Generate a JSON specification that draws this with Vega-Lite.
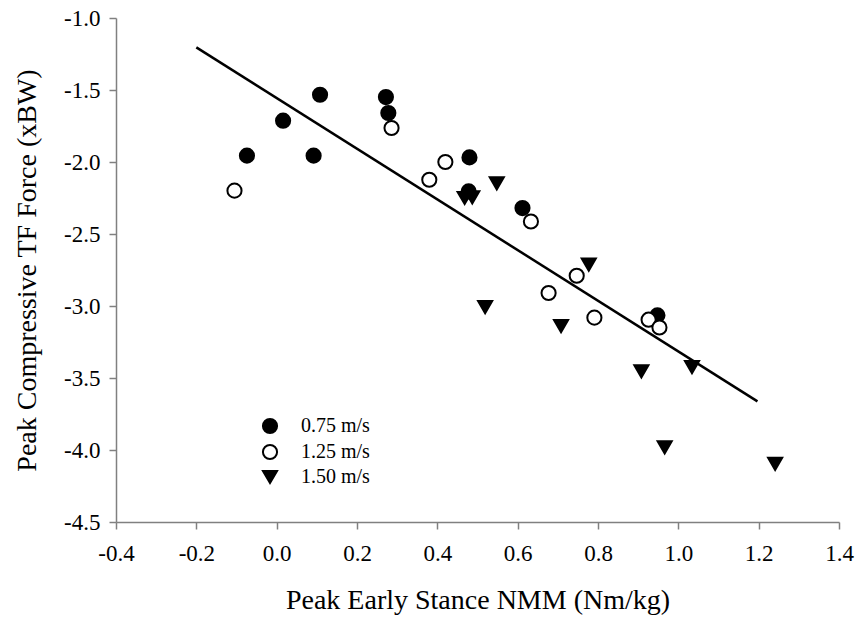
{
  "$schema": "https://vega.github.io/schema/vega-lite/v6.json",
  "width": 723,
  "height": 504,
  "autosize": "none",
  "padding": {"left": 116, "top": 18, "right": 17, "bottom": 102},
  "background": "white",
  "config": {
    "view": {"stroke": null},
    "font": "Liberation Serif",
    "axis": {
      "grid": false,
      "labelFlush": false,
      "labelOverlap": false,
      "domainColor": "#808080",
      "domainWidth": 1.5,
      "tickColor": "#808080",
      "tickWidth": 1.5,
      "tickSize": 7,
      "labelFont": "Liberation Serif",
      "labelFontSize": 23,
      "labelColor": "#000000",
      "titleFont": "Liberation Serif",
      "titleFontSize": 28,
      "titleFontWeight": "normal",
      "titleColor": "#000000"
    },
    "legend": {
      "orient": "none",
      "legendX": 144,
      "legendY": 398,
      "title": null,
      "labelFont": "Liberation Serif",
      "labelFontSize": 20,
      "labelColor": "#000000",
      "symbolSize": 200,
      "symbolStrokeColor": "#000000",
      "symbolStrokeWidth": 2,
      "labelOffset": 21,
      "rowPadding": 2
    }
  },
  "datasets": {
    "points": [
      {"x": 0.548, "y": -2.149, "speed": "1.50 m/s"},
      {"x": 0.468, "y": -2.250, "speed": "1.50 m/s"},
      {"x": 0.487, "y": -2.245, "speed": "1.50 m/s"},
      {"x": 0.777, "y": -2.713, "speed": "1.50 m/s"},
      {"x": 0.519, "y": -3.007, "speed": "1.50 m/s"},
      {"x": 0.708, "y": -3.139, "speed": "1.50 m/s"},
      {"x": 0.908, "y": -3.454, "speed": "1.50 m/s"},
      {"x": 1.034, "y": -3.424, "speed": "1.50 m/s"},
      {"x": 0.966, "y": -3.982, "speed": "1.50 m/s"},
      {"x": 1.241, "y": -4.097, "speed": "1.50 m/s"},
      {"x": -0.074, "y": -1.956, "speed": "0.75 m/s"},
      {"x": 0.016, "y": -1.713, "speed": "0.75 m/s"},
      {"x": 0.108, "y": -1.533, "speed": "0.75 m/s"},
      {"x": 0.092, "y": -1.956, "speed": "0.75 m/s"},
      {"x": 0.272, "y": -1.549, "speed": "0.75 m/s"},
      {"x": 0.278, "y": -1.660, "speed": "0.75 m/s"},
      {"x": 0.480, "y": -1.968, "speed": "0.75 m/s"},
      {"x": 0.478, "y": -2.204, "speed": "0.75 m/s"},
      {"x": 0.612, "y": -2.320, "speed": "0.75 m/s"},
      {"x": 0.948, "y": -3.065, "speed": "0.75 m/s"},
      {"x": -0.105, "y": -2.199, "speed": "1.25 m/s"},
      {"x": 0.286, "y": -1.764, "speed": "1.25 m/s"},
      {"x": 0.420, "y": -2.000, "speed": "1.25 m/s"},
      {"x": 0.380, "y": -2.123, "speed": "1.25 m/s"},
      {"x": 0.633, "y": -2.413, "speed": "1.25 m/s"},
      {"x": 0.747, "y": -2.790, "speed": "1.25 m/s"},
      {"x": 0.677, "y": -2.910, "speed": "1.25 m/s"},
      {"x": 0.791, "y": -3.081, "speed": "1.25 m/s"},
      {"x": 0.926, "y": -3.095, "speed": "1.25 m/s"},
      {"x": 0.953, "y": -3.149, "speed": "1.25 m/s"}
    ],
    "fit": [
      {"x": -0.2, "y": -1.204},
      {"x": 1.197, "y": -3.662}
    ]
  },
  "layer": [
    {
      "data": {"name": "fit"},
      "mark": {"type": "line", "color": "#000000", "strokeWidth": 2.5},
      "encoding": {
        "x": {"field": "x", "type": "quantitative"},
        "y": {"field": "y", "type": "quantitative"}
      }
    },
    {
      "data": {"name": "points"},
      "mark": {"type": "point", "filled": false, "strokeWidth": 2, "size": 200, "opacity": 1},
      "encoding": {
        "x": {
          "field": "x",
          "type": "quantitative",
          "scale": {"domain": [-0.4, 1.4], "nice": false, "zero": false},
          "axis": {
            "title": "Peak Early Stance NMM (Nm/kg)",
            "values": [-0.4, -0.2, 0, 0.2, 0.4, 0.6, 0.8, 1.0, 1.2, 1.4],
            "labelExpr": "datum.value < -0.00001 ? '-' + format(-datum.value, '.1f') : format(datum.value, '.1f')",
            "labelPadding": 13,
            "titlePadding": 21
          }
        },
        "y": {
          "field": "y",
          "type": "quantitative",
          "scale": {"domain": [-4.5, -1.0], "nice": false, "zero": false},
          "axis": {
            "title": "Peak Compressive TF Force (xBW)",
            "values": [-4.5, -4.0, -3.5, -3.0, -2.5, -2.0, -1.5, -1.0],
            "labelExpr": "datum.value < -0.00001 ? '-' + format(-datum.value, '.1f') : format(datum.value, '.1f')",
            "labelPadding": 9,
            "titlePadding": 22
          }
        },
        "shape": {
          "field": "speed",
          "type": "nominal",
          "scale": {"domain": ["0.75 m/s", "1.25 m/s", "1.50 m/s"], "range": ["circle", "circle", "triangle-down"]}
        },
        "fill": {
          "field": "speed",
          "type": "nominal",
          "scale": {"domain": ["0.75 m/s", "1.25 m/s", "1.50 m/s"], "range": ["#000000", "#ffffff", "#000000"]}
        },
        "stroke": {
          "field": "speed",
          "type": "nominal",
          "scale": {"domain": ["0.75 m/s", "1.25 m/s", "1.50 m/s"], "range": ["#000000", "#000000", "#000000"]}
        }
      }
    }
  ]
}
